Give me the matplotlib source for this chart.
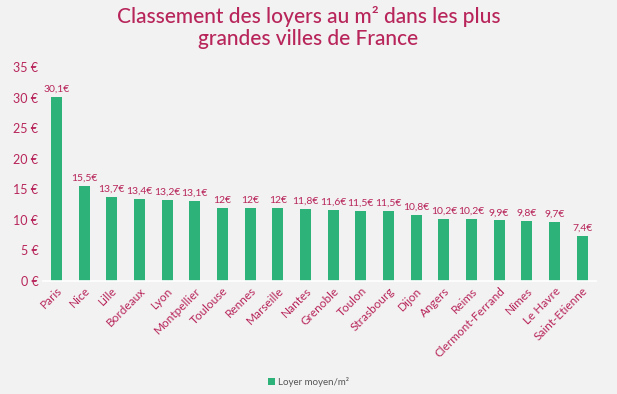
import matplotlib.pyplot as plt
import numpy as np

villes = ["Paris", "Nice", "Lille", "Bordeaux", "Lyon", "Montpellier", "Toulouse",
          "Rennes", "Marseille", "Nantes", "Grenoble", "Toulon", "Strasbourg", "Dijon",
          "Angers", "Reims", "Clermont-Ferrand", "Nîmes", "Le Havre", "Saint-Etienne"]
loyers = [30.1, 15.5, 13.7, 13.4, 13.2, 13.1, 12, 12, 12, 11.8, 11.6, 11.5, 11.5,
          10.8, 10.2, 10.2, 9.9, 9.8, 9.7, 7.4]
etiquettes = ["30,1€", "15,5€", "13,7€", "13,4€", "13,2€", "13,1€", "12€", "12€", "12€",
              "11,8€", "11,6€", "11,5€", "11,5€", "10,8€", "10,2€", "10,2€", "9,9€",
              "9,8€", "9,7€", "7,4€"]

rose = "#b8255a"
vert = "#2db27a"
fond = "#f2f2f2"

plt.rcParams['font.family'] = ['Lato', 'DejaVu Sans']

fig = plt.figure(figsize=(6.17, 3.94), dpi=100, facecolor=fond)
ax = fig.add_axes([0.069, 0.287, 0.897, 0.543], facecolor=fond)

x = np.arange(len(villes))
bars = ax.bar(x, loyers, width=0.4, color=vert, label="Loyer moyen/m²", zorder=2)
for xi, v, t in zip(x, loyers, etiquettes):
    ax.text(xi, v + 0.5, t, ha='center', va='bottom', fontsize=7.5, color=rose)

ax.set_ylim(0, 35)
ax.set_xlim(-0.5, len(villes) - 0.5)
ax.set_yticks(range(0, 36, 5))
ax.set_yticklabels([f"{v} €" for v in range(0, 36, 5)], color=rose, fontsize=9)
ax.set_xticks(x)
ax.set_xticklabels(villes, rotation=45, ha='right', rotation_mode='anchor',
                   color=rose, fontsize=8.5)
ax.tick_params(length=0, pad=3)
for s in ['top', 'right', 'left']:
    ax.spines[s].set_visible(False)
ax.spines['bottom'].set_color('white')
ax.spines['bottom'].set_linewidth(1.2)

fig.suptitle("Classement des loyers au m² dans les plus\ngrandes villes de France",
             color=rose, fontsize=15, y=0.985, linespacing=1.15, fontweight='medium')

fig.legend(handles=[bars], labels=["Loyer moyen/m²"], loc='center',
           bbox_to_anchor=(0.5, 0.03), frameon=False, fontsize=7,
           labelcolor='#555555', handlelength=0.7, handleheight=0.7, handletextpad=0.3)

fig.savefig("out.png", dpi=100, facecolor=fond)
